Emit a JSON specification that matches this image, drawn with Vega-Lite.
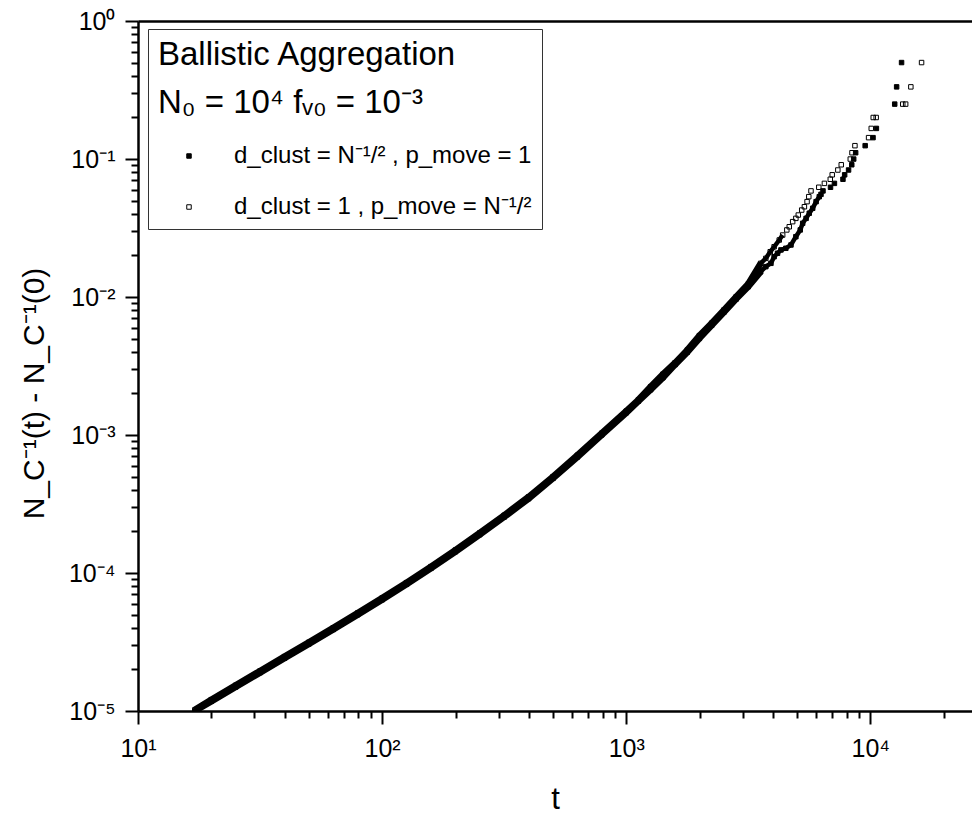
{
  "$schema": "https://vega.github.io/schema/vega-lite/v6.json",
  "autosize": {"type": "none"},
  "padding": {"left": 138, "top": 21, "right": 0, "bottom": 105},
  "width": 834,
  "height": 690,
  "background": "white",
  "config": {"view": {"stroke": null}, "font": "Liberation Sans"},
  "data": {"values": [
    {"t": 17.1, "v": 1.0e-5, "s": "a"},
    {"t": 19.95, "v": 1.175e-5, "s": "a"},
    {"t": 25.12, "v": 1.493e-5, "s": "a"},
    {"t": 31.62, "v": 1.897e-5, "s": "a"},
    {"t": 39.81, "v": 2.41e-5, "s": "a"},
    {"t": 50.12, "v": 3.062e-5, "s": "a"},
    {"t": 63.1, "v": 3.899e-5, "s": "a"},
    {"t": 79.43, "v": 4.989e-5, "s": "a"},
    {"t": 100, "v": 6.397e-5, "s": "a"},
    {"t": 125.9, "v": 8.279e-5, "s": "a"},
    {"t": 158.5, "v": 1.081e-4, "s": "a"},
    {"t": 199.5, "v": 1.426e-4, "s": "a"},
    {"t": 251.2, "v": 1.897e-4, "s": "a"},
    {"t": 316.2, "v": 2.547e-4, "s": "a"},
    {"t": 398.1, "v": 3.459e-4, "s": "a"},
    {"t": 501.2, "v": 4.853e-4, "s": "a"},
    {"t": 631.0, "v": 6.934e-4, "s": "a"},
    {"t": 794.3, "v": 1.002e-3, "s": "a"},
    {"t": 1000, "v": 1.449e-3, "s": "a"},
    {"t": 1122, "v": 1.758e-3, "s": "a"},
    {"t": 1259, "v": 2.128e-3, "s": "a"},
    {"t": 1413, "v": 2.6e-3, "s": "a"},
    {"t": 1585, "v": 3.236e-3, "s": "a"},
    {"t": 1778, "v": 3.981e-3, "s": "a"},
    {"t": 1995, "v": 5.012e-3, "s": "a"},
    {"t": 2239, "v": 6.237e-3, "s": "a"},
    {"t": 2512, "v": 7.762e-3, "s": "a"},
    {"t": 2818, "v": 9.661e-3, "s": "a"},
    {"t": 3162, "v": 1.189e-2, "s": "a"},
    {"t": 3556, "v": 1.524e-2, "s": "a"},
    {"t": 3733, "v": 1.66e-2, "s": "a"},
    {"t": 3917, "v": 1.754e-2, "s": "a"},
    {"t": 4036, "v": 1.959e-2, "s": "a"},
    {"t": 4169, "v": 2.075e-2, "s": "a"},
    {"t": 4305, "v": 2.193e-2, "s": "a"},
    {"t": 4508, "v": 2.254e-2, "s": "a"},
    {"t": 4732, "v": 2.382e-2, "s": "a"},
    {"t": 4955, "v": 2.735e-2, "s": "a"},
    {"t": 5164, "v": 3.062e-2, "s": "a"},
    {"t": 5284, "v": 3.42e-2, "s": "a"},
    {"t": 5458, "v": 3.715e-2, "s": "a"},
    {"t": 5623, "v": 4.046e-2, "s": "a"},
    {"t": 5808, "v": 4.395e-2, "s": "a"},
    {"t": 5998, "v": 4.909e-2, "s": "a"},
    {"t": 6180, "v": 5.333e-2, "s": "a"},
    {"t": 6281, "v": 0.05546, "s": "a"},
    {"t": 6400, "v": 0.05872, "s": "a"},
    {"t": 6871, "v": 0.0624, "s": "a"},
    {"t": 7129, "v": 0.06657, "s": "a"},
    {"t": 7727, "v": 0.07133, "s": "a"},
    {"t": 7852, "v": 0.07682, "s": "a"},
    {"t": 8147, "v": 0.08323, "s": "a"},
    {"t": 8395, "v": 0.09081, "s": "a"},
    {"t": 8551, "v": 0.0999, "s": "a"},
    {"t": 8710, "v": 0.111, "s": "a"},
    {"t": 9528, "v": 0.1249, "s": "a"},
    {"t": 10260, "v": 0.1428, "s": "a"},
    {"t": 10590, "v": 0.1666, "s": "a"},
    {"t": 12590, "v": 0.2499, "s": "a"},
    {"t": 12820, "v": 0.3332, "s": "a"},
    {"t": 13430, "v": 0.4999, "s": "a"},
    {"t": 17.1, "v": 1.02e-5, "s": "b"},
    {"t": 19.95, "v": 1.208e-5, "s": "b"},
    {"t": 25.12, "v": 1.535e-5, "s": "b"},
    {"t": 31.62, "v": 1.95e-5, "s": "b"},
    {"t": 39.81, "v": 2.477e-5, "s": "b"},
    {"t": 50.12, "v": 3.148e-5, "s": "b"},
    {"t": 63.1, "v": 4.009e-5, "s": "b"},
    {"t": 79.43, "v": 5.129e-5, "s": "b"},
    {"t": 100, "v": 6.577e-5, "s": "b"},
    {"t": 125.9, "v": 8.511e-5, "s": "b"},
    {"t": 158.5, "v": 1.112e-4, "s": "b"},
    {"t": 199.5, "v": 1.466e-4, "s": "b"},
    {"t": 251.2, "v": 1.95e-4, "s": "b"},
    {"t": 316.2, "v": 2.618e-4, "s": "b"},
    {"t": 398.1, "v": 3.556e-4, "s": "b"},
    {"t": 501.2, "v": 4.989e-4, "s": "b"},
    {"t": 631.0, "v": 7.129e-4, "s": "b"},
    {"t": 794.3, "v": 1.03e-3, "s": "b"},
    {"t": 1000, "v": 1.489e-3, "s": "b"},
    {"t": 1122, "v": 1.799e-3, "s": "b"},
    {"t": 1259, "v": 2.239e-3, "s": "b"},
    {"t": 1413, "v": 2.754e-3, "s": "b"},
    {"t": 1585, "v": 3.327e-3, "s": "b"},
    {"t": 1778, "v": 4.121e-3, "s": "b"},
    {"t": 1995, "v": 5.248e-3, "s": "b"},
    {"t": 2239, "v": 6.457e-3, "s": "b"},
    {"t": 2512, "v": 8.035e-3, "s": "b"},
    {"t": 2818, "v": 1.0e-2, "s": "b"},
    {"t": 3162, "v": 1.245e-2, "s": "b"},
    {"t": 3556, "v": 1.754e-2, "s": "b"},
    {"t": 3733, "v": 1.905e-2, "s": "b"},
    {"t": 3890, "v": 2.128e-2, "s": "b"},
    {"t": 4036, "v": 2.312e-2, "s": "b"},
    {"t": 4236, "v": 2.588e-2, "s": "b"},
    {"t": 4375, "v": 2.812e-2, "s": "b"},
    {"t": 4550, "v": 3.062e-2, "s": "b"},
    {"t": 4656, "v": 3.228e-2, "s": "b"},
    {"t": 4808, "v": 3.516e-2, "s": "b"},
    {"t": 4955, "v": 3.715e-2, "s": "b"},
    {"t": 5070, "v": 3.926e-2, "s": "b"},
    {"t": 5236, "v": 4.266e-2, "s": "b"},
    {"t": 5370, "v": 4.508e-2, "s": "b"},
    {"t": 5508, "v": 4.909e-2, "s": "b"},
    {"t": 5598, "v": 5.333e-2, "s": "b"},
    {"t": 5715, "v": 0.05872, "s": "b"},
    {"t": 6152, "v": 0.0624, "s": "b"},
    {"t": 6486, "v": 0.06657, "s": "b"},
    {"t": 6855, "v": 0.07133, "s": "b"},
    {"t": 6982, "v": 0.07682, "s": "b"},
    {"t": 7362, "v": 0.08323, "s": "b"},
    {"t": 7603, "v": 0.09081, "s": "b"},
    {"t": 8279, "v": 0.0999, "s": "b"},
    {"t": 8414, "v": 0.111, "s": "b"},
    {"t": 8650, "v": 0.1249, "s": "b"},
    {"t": 9840, "v": 0.1428, "s": "b"},
    {"t": 10090, "v": 0.1666, "s": "b"},
    {"t": 10280, "v": 0.1999, "s": "b"},
    {"t": 10570, "v": 0.1999, "s": "b"},
    {"t": 13580, "v": 0.2499, "s": "b"},
    {"t": 13960, "v": 0.2499, "s": "b"},
    {"t": 14660, "v": 0.3332, "s": "b"},
    {"t": 16220, "v": 0.4999, "s": "b"}
  ]},
  "layer": [
    {
      "transform": [{"filter": "datum.t < 3600"}],
      "mark": {"type": "line", "color": "black", "strokeWidth": 6.5, "clip": true},
      "encoding": {
        "x": {
          "field": "t", "type": "quantitative",
          "scale": {"type": "log", "domain": [10, 26100], "nice": false},
          "axis": {
            "orient": "bottom",
            "values": [10, 20, 30, 40, 50, 60, 70, 80, 90, 100, 200, 300, 400, 500, 600, 700, 800, 900, 1000, 2000, 3000, 4000, 5000, 6000, 7000, 8000, 9000, 10000, 20000],
            "grid": false,
            "domainColor": "black", "domainWidth": 2.5,
            "tickColor": "black", "tickWidth": 2,
            "tickSize": {"condition": {"test": "abs(log(datum.value)/LN10 - round(log(datum.value)/LN10)) < 0.01", "value": 13}, "value": 7},
            "labelExpr": "abs(log(datum.value)/LN10 - round(log(datum.value)/LN10)) < 0.01 ? '10' + (round(log(datum.value)/LN10) < 0 ? '⁻' : '') + ['⁰','¹','²','³','⁴','⁵'][abs(round(log(datum.value)/LN10))] : ''",
            "labelFontSize": 25, "labelColor": "black", "labelFont": "Liberation Sans",
            "labelPadding": 12, "labelOverlap": false, "labelFlush": false, "labelBound": false,
            "title": "t", "titleFontSize": 31, "titleFontWeight": "normal", "titleColor": "black",
            "titleFont": "Liberation Sans", "titleBaseline": "bottom", "titleY": 104
          }
        },
        "y": {
          "field": "v", "type": "quantitative",
          "scale": {"type": "log", "domain": [0.00001, 1], "nice": false},
          "axis": {
            "orient": "left",
            "values": [0.00001, 0.00002, 0.00003, 0.00004, 0.00005, 0.00006, 0.00007, 0.00008, 0.00009, 0.0001, 0.0002, 0.0003, 0.0004, 0.0005, 0.0006, 0.0007, 0.0008, 0.0009, 0.001, 0.002, 0.003, 0.004, 0.005, 0.006, 0.007, 0.008, 0.009, 0.01, 0.02, 0.03, 0.04, 0.05, 0.06, 0.07, 0.08, 0.09, 0.1, 0.2, 0.3, 0.4, 0.5, 0.6, 0.7, 0.8, 0.9, 1],
            "grid": false,
            "domainColor": "black", "domainWidth": 2.5,
            "tickColor": "black", "tickWidth": 2,
            "tickSize": {"condition": {"test": "abs(log(datum.value)/LN10 - round(log(datum.value)/LN10)) < 0.01", "value": 13}, "value": 7},
            "labelExpr": "abs(log(datum.value)/LN10 - round(log(datum.value)/LN10)) < 0.01 ? '10' + (round(log(datum.value)/LN10) < 0 ? '⁻' : '') + ['⁰','¹','²','³','⁴','⁵'][abs(round(log(datum.value)/LN10))] : ''",
            "labelFontSize": 25, "labelColor": "black", "labelFont": "Liberation Sans",
            "labelPadding": 10, "labelOverlap": false, "labelFlush": false, "labelBound": false,
            "title": "N_C⁻¹(t) - N_C⁻¹(0)", "titleFontSize": 30, "titleFontWeight": "normal", "titleColor": "black",
            "titleFont": "Liberation Sans", "titleAngle": -90, "titleAlign": "center", "titleBaseline": "alphabetic",
            "titleX": -95, "titleY": 372
          }
        },
        "detail": {"field": "s", "type": "nominal"}
      }
    },
    {
      "transform": [{"filter": "(datum.s == 'a' && datum.t > 3100 && datum.t < 6200) || (datum.s == 'b' && datum.t > 3100 && datum.t < 4400)"}],
      "mark": {"type": "line", "color": "black", "strokeWidth": 4.5, "clip": true},
      "encoding": {
        "x": {"field": "t", "type": "quantitative", "axis": null},
        "y": {"field": "v", "type": "quantitative"},
        "detail": {"field": "s", "type": "nominal"}
      }
    },
    {
      "mark": {"type": "point", "shape": "square", "stroke": "black", "strokeWidth": 1, "size": 20, "opacity": 1, "clip": true},
      "encoding": {
        "x": {
          "field": "t", "type": "quantitative",
          "scale": {"type": "log", "domain": [10, 26100], "nice": false},
          "axis": {"orient": "top", "labels": false, "ticks": false, "domain": true, "domainColor": "black", "domainWidth": 2.5, "grid": false, "title": null}
        },
        "y": {"field": "v", "type": "quantitative"},
        "fill": {
          "field": "s", "type": "nominal",
          "scale": {"domain": ["a", "b"], "range": ["black", "transparent"]},
          "legend": {
            "orient": "none", "legendX": 10, "legendY": 8, "direction": "vertical",
            "title": ["Ballistic Aggregation", "N₀ = 10⁴ fᵥ₀ = 10⁻³"],
            "titleFontSize": 33, "titleFontWeight": "normal", "titleColor": "black", "titleFont": "Liberation Sans",
            "titleLineHeight": 48, "titlePadding": 24, "titleLimit": 700, "titleBaseline": "top",
            "labelFontSize": 24, "labelColor": "black", "labelFont": "Liberation Sans", "labelLimit": 700, "labelOffset": 33,
            "labelExpr": "datum.value == 'a' ? 'd_clust = N⁻¹/² , p_move = 1' : 'd_clust = 1 , p_move = N⁻¹/²'",
            "symbolType": "square", "symbolSize": 20, "symbolStrokeColor": "black", "symbolStrokeWidth": 1, "symbolOffset": 19,
            "rowPadding": 27, "padding": 10, "strokeColor": "#333333", "fillColor": "white", "cornerRadius": 0
          }
        }
      }
    }
  ],
  "resolve": {"axis": {"x": "independent"}}
}
